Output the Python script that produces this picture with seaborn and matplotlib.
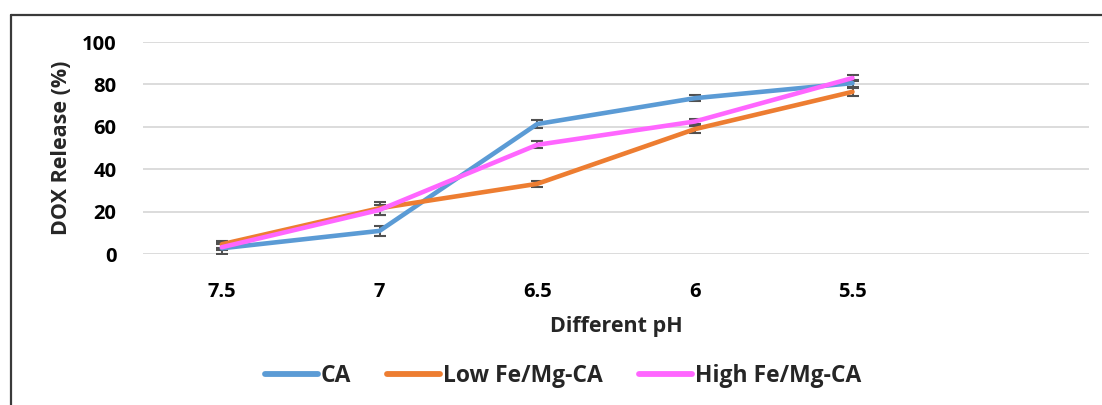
import matplotlib
matplotlib.use("Agg")
import matplotlib.pyplot as plt
from matplotlib.lines import Line2D
import seaborn as sns
import pandas as pd
import numpy as np

# pH conditions (categories, in plotted order)
ph_labels = ["7.5", "7", "6.5", "6", "5.5"]

# DOX release (%) per formulation
ca_release = [2.7, 10.9, 61.3, 73.5, 80.6]
low_release = [4.6, 21.6, 33.1, 58.9, 76.5]
high_release = [3.2, 20.8, 51.5, 62.5, 83.0]

# standard deviations
ca_err = [2.8, 2.4, 1.8, 1.3, 1.6]
low_err = [1.6, 3.1, 1.4, 1.6, 2.0]
high_err = [1.5, 2.2, 1.7, 1.3, 1.2]

series_names = ["CA", "Low Fe/Mg-CA", "High Fe/Mg-CA"]
colors = {"CA": "#5B9BD5", "Low Fe/Mg-CA": "#ED7D31", "High Fe/Mg-CA": "#FF66FF"}

values = {"CA": ca_release, "Low Fe/Mg-CA": low_release, "High Fe/Mg-CA": high_release}
errors = {"CA": ca_err, "Low Fe/Mg-CA": low_err, "High Fe/Mg-CA": high_err}

rows = []
for name in series_names:
    for i, (ph, v, e) in enumerate(zip(ph_labels, values[name], errors[name])):
        rows.append({"pos": i, "pH": ph, "release": v, "err": e, "sample": name})
df = pd.DataFrame(rows)

sns.set_theme(style="white")
plt.rcParams["font.family"] = ["Open Sans", "DejaVu Sans"]
plt.rcParams["font.weight"] = "bold"

FS_TICK = 14.5
FS_LABEL = 15.5
FS_LEG = 16.5

fig = plt.figure(figsize=(11.02, 4.05), dpi=100)
ax = fig.add_axes([143 / 1102, 1 - 254 / 405, (1089 - 143) / 1102, (254 - 42) / 405])

for name in series_names:
    sub = df[df["sample"] == name]
    ax.errorbar(sub["pos"], sub["release"], yerr=sub["err"], fmt="none",
                ecolor="#505050", elinewidth=1.4, capsize=4.5, capthick=1.5, zorder=4)

sns.lineplot(data=df, x="pos", y="release", hue="sample", hue_order=series_names,
             palette=colors, linewidth=3.3, ax=ax, legend=False, zorder=5,
             solid_capstyle="round", solid_joinstyle="round")

ax.set_xlim(-0.5, 5.5)
ax.set_ylim(0, 100)
ax.set_xticks(range(len(ph_labels)))
ax.set_xticklabels(ph_labels)
ax.set_yticks(np.arange(0, 101, 20))
ax.yaxis.grid(True, color="#D9D9D9", linewidth=1.3)
ax.xaxis.grid(False)
for s in ax.spines.values():
    s.set_visible(False)
ax.tick_params(axis="both", length=0, labelsize=FS_TICK, colors="black")
ax.tick_params(axis="x", pad=20)
ax.tick_params(axis="y", pad=19)
for lbl in ax.get_xticklabels() + ax.get_yticklabels():
    lbl.set_fontweight("bold")

ax.set_xlabel("Different pH", fontsize=FS_LABEL, fontweight="bold", labelpad=10)
ax.set_ylabel("DOX Release (%)", fontsize=FS_LABEL, fontweight="bold", labelpad=7)

handles = [Line2D([0], [0], color=colors[n], linewidth=4.2, solid_capstyle="round")
           for n in series_names]
fig.legend(handles, series_names, loc="center", bbox_to_anchor=(563 / 1102, 1 - 376 / 405),
           ncol=3, frameon=False, handlelength=2.3, handletextpad=0.12, columnspacing=1.6,
           prop={"size": FS_LEG, "weight": "bold"})

# outer chart frame (top and left edges)
fig.add_artist(Line2D([11 / 1102, 11 / 1102], [0, 1 - 15 / 405], color="#3A3A3A",
                      linewidth=1.6, transform=fig.transFigure))
fig.add_artist(Line2D([11 / 1102, 1], [1 - 15 / 405, 1 - 15 / 405], color="#3A3A3A",
                      linewidth=1.6, transform=fig.transFigure))

fig.savefig("out.png", dpi=100, facecolor="white")
